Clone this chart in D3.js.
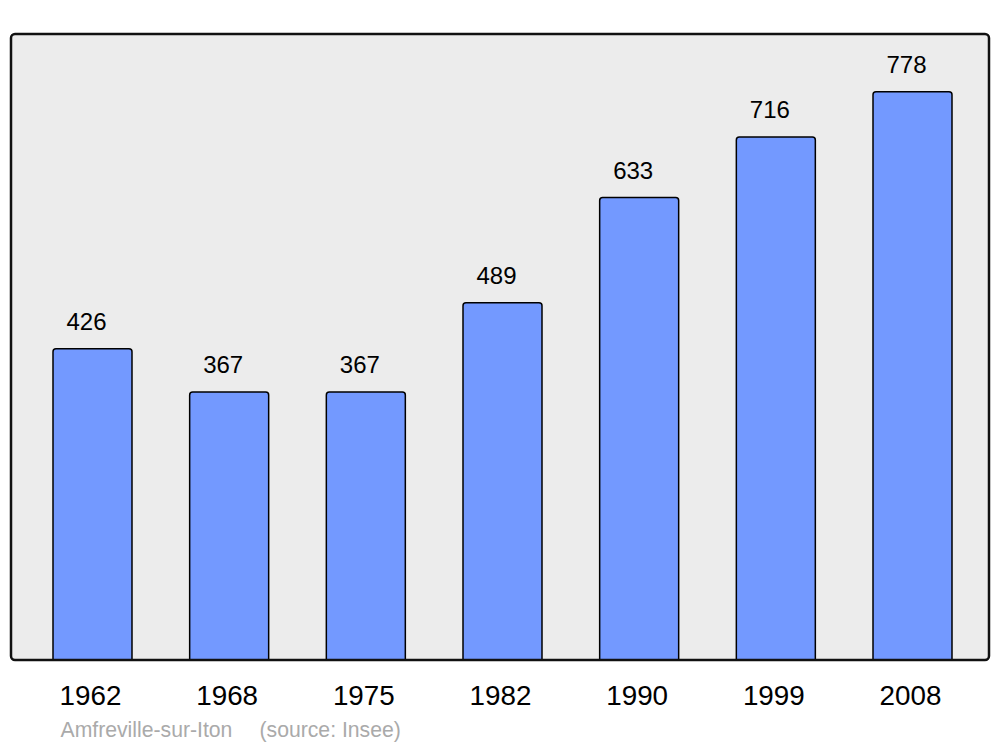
<!DOCTYPE html>
<html><head><meta charset="utf-8">
<script src="https://cdn.jsdelivr.net/npm/d3@7"></script>
<style>body{margin:0;background:#fff}svg{display:block}</style>
</head><body>
<svg id="c" width="1000" height="747"></svg>
<script>
const years = ["1962","1968","1975","1982","1990","1999","2008"];
const population = [426, 367, 367, 489, 633, 716, 778];
const captionParts = ["Amfreville-sur-Iton", "(source: Insee)"];

const svg = d3.select("#c");
const plot = {left: 11, right: 989, top: 34, bottom: 660};
const font = "'Liberation Sans', Arial, sans-serif";

svg.append("rect")
  .attr("x", plot.left).attr("y", plot.top)
  .attr("width", plot.right - plot.left).attr("height", plot.bottom - plot.top)
  .attr("rx", 4).attr("fill", "#ececec");

const x = d3.scaleBand().domain(years).range([24.3, 980.7]).paddingInner(0.422).paddingOuter(0.21);
const y = d3.scaleLinear().domain([0, 857]).range([plot.bottom, plot.top]);

const r = 3;
function barPath(d, i) {
  const x0 = x(years[i]), x1 = x0 + x.bandwidth();
  const yt = y(d), yb = y(0);
  return `M${x0},${yb}V${yt + r}Q${x0},${yt} ${x0 + r},${yt}H${x1 - r}Q${x1},${yt} ${x1},${yt + r}V${yb}`;
}

svg.append("g").selectAll("path").data(population).join("path")
  .attr("d", barPath)
  .attr("fill", "#7399ff").attr("stroke", "#000").attr("stroke-width", 1.5);

svg.append("g").selectAll("text").data(population).join("text")
  .attr("x", (d, i) => x(years[i]) + x.bandwidth() / 2 - 6)
  .attr("y", d => y(d) - 19)
  .attr("text-anchor", "middle")
  .attr("font-family", font).attr("font-size", 24).attr("fill", "#000")
  .text(d => d);

svg.append("rect")
  .attr("x", plot.left).attr("y", plot.top)
  .attr("width", plot.right - plot.left).attr("height", plot.bottom - plot.top)
  .attr("rx", 4).attr("fill", "none").attr("stroke", "#111").attr("stroke-width", 2.5);

svg.append("g").selectAll("text").data(years).join("text")
  .attr("x", d => x(d) + x.bandwidth() / 2 - 2)
  .attr("y", 705)
  .attr("text-anchor", "middle")
  .attr("font-family", font).attr("font-size", 27.8).attr("fill", "#000")
  .text(d => d);

svg.append("g").selectAll("text").data(captionParts).join("text")
  .attr("x", (d, i) => i === 0 ? 60.5 : 259.5)
  .attr("y", 737)
  .attr("font-family", font).attr("font-size", 21.2).attr("fill", "#aaaaaa")
  .text(d => d);
</script>
</body></html>
